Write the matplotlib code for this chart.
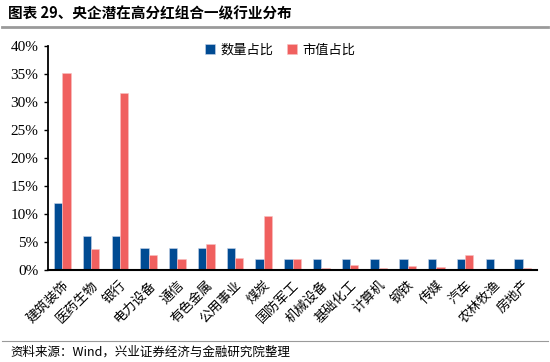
import numpy as np
import matplotlib
matplotlib.use("Agg")
import matplotlib.pyplot as plt
from matplotlib.lines import Line2D

plt.rcParams['font.family'] = ['Liberation Serif', 'Noto Sans CJK SC', 'DejaVu Sans']

industries = ["建筑装饰", "医药生物", "银行", "电力设备", "通信", "有色金属", "公用事业",
              "煤炭", "国防军工", "机械设备", "基础化工", "计算机", "钢铁", "传媒",
              "汽车", "农林牧渔", "房地产"]
count_share = [12, 6, 6, 4, 4, 4, 4, 2, 2, 2, 2, 2, 2, 2, 2, 2, 2]
mcap_share = [35.1, 3.7, 31.6, 2.7, 1.9, 4.6, 2.1, 9.7, 2.0, 0.3, 0.9, 0.4, 0.7, 0.6, 2.6, 0.0, 0.4]
yticks = [0, 5, 10, 15, 20, 25, 30, 35, 40]

BLUE = "#004B93"
RED = "#F0605F"

fig = plt.figure(figsize=(5.5, 3.62), dpi=100)
ax = fig.add_axes([48/550, 1-270/362, (537-48)/550, (270-46)/362])

x = np.arange(len(industries))
w = 0.29
ax.bar(x - w/2, count_share, w, color=BLUE, edgecolor="#C9D6EA", linewidth=0.4, label="数量占比")
ax.bar(x + w/2, mcap_share, w, color=RED, edgecolor="#F8C0C0", linewidth=0.4, label="市值占比")

ax.set_xlim(-0.5, len(industries) - 0.5)
ax.set_ylim(0, 40)
ax.set_yticks(yticks)
ax.set_yticklabels([f"{v}%" for v in yticks], fontsize=11, family="Liberation Serif")
ax.set_xticks(x)
ax.set_xticklabels(industries, rotation=45, ha="right", rotation_mode="anchor",
                   fontsize=9.5, family=["Noto Sans CJK SC"])
ax.tick_params(axis="x", length=0, pad=6)
ax.tick_params(axis="y", length=3, width=1, direction="out", pad=4)
for s in ["top", "right"]:
    ax.spines[s].set_visible(False)
ax.spines["left"].set_linewidth(1.3)
ax.spines["bottom"].set_linewidth(1.5)

leg = ax.legend(loc="upper center", bbox_to_anchor=(0.475, 1.065), ncol=2, frameon=False,
                prop={"family": "Noto Sans CJK SC", "size": 9.5},
                handlelength=0.8, handleheight=0.8, handletextpad=0.4, columnspacing=1.0)

fig.text(8/550, 1-13/362, "图表 29、央企潜在高分红组合一级行业分布", fontsize=10.5,
         fontweight="bold", va="center", ha="left",
         family=["Noto Sans CJK SC"])
fig.add_artist(Line2D([2/550, 548/550], [1-27/362, 1-27/362], color="#9A9A9A", linewidth=2))
fig.add_artist(Line2D([2/550, 548/550], [1-341/362, 1-341/362], color="#9A9A9A", linewidth=0.8))
fig.text(10/550, 1-352/362, "资料来源：Wind，兴业证券经济与金融研究院整理", fontsize=9,
         va="center", ha="left", family=["Noto Sans CJK SC", "Liberation Serif"])

fig.savefig("out.png", dpi=100)
